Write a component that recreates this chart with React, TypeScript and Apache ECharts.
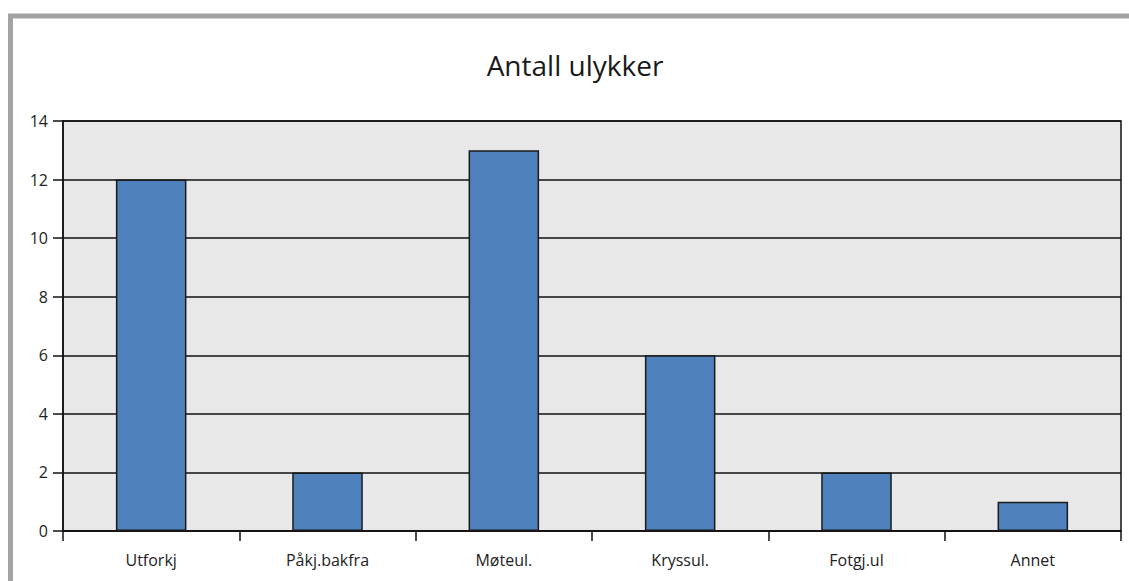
import React, { useEffect, useRef } from "react";
import * as echarts from "echarts";

const categories = ["Utforkj", "Påkj.bakfra", "Møteul.", "Kryssul.", "Fotgj.ul", "Annet"];
const values = [12, 2, 13, 6, 2, 1];
const titleText = "Antall ulykker";

export default function App() {
  const ref = useRef<HTMLDivElement>(null);
  useEffect(() => {
    const chart = echarts.init(ref.current!, null, { renderer: "svg" });
    const font = "'Open Sans', 'Noto Sans', sans-serif";
    chart.setOption({
      animation: false,
      backgroundColor: "#ffffff",
      textStyle: { fontFamily: font },
      title: {
        text: titleText,
        left: 570,
        top: 46,
        textAlign: "center",
        textStyle: { fontFamily: font, fontSize: 28, fontWeight: "normal", color: "#1a1a1a" },
      },
      graphic: [
        {
          type: "rect",
          z: -10,
          shape: { x: 10.5, y: 16, width: 1140, height: 620 },
          style: { fill: "#ffffff", stroke: "#a3a3a3", lineWidth: 5 },
          silent: true,
        },
      ],
      grid: {
        left: 63,
        right: 8,
        top: 121,
        bottom: 50,
        show: true,
        backgroundColor: "#e8e8e8",
        borderColor: "#111",
        borderWidth: 1.5,
      },
      xAxis: {
        type: "category",
        data: categories,
        axisLine: { lineStyle: { color: "#111", width: 1.5 } },
        axisTick: { show: true, length: 10, inside: false, lineStyle: { color: "#111", width: 1.5 }, alignWithLabel: false },
        axisLabel: { margin: 21, fontSize: 16, color: "#222", fontFamily: font, interval: 0 },
      },
      yAxis: {
        type: "value",
        min: 0,
        max: 14,
        interval: 2,
        axisLine: { show: true, lineStyle: { color: "#111", width: 1.5 } },
        axisTick: { show: true, length: 10, lineStyle: { color: "#111", width: 1.5 } },
        axisLabel: { margin: 15, fontSize: 16, color: "#222", fontFamily: font },
        splitLine: { show: true, lineStyle: { color: "#111", width: 1.5 } },
      },
      series: [
        {
          type: "bar",
          data: values,
          barWidth: "40%",
          itemStyle: { color: "#4f81bd", borderColor: "#1a1a1a", borderWidth: 1.5 },
        },
      ],
    });
    return () => chart.dispose();
  }, []);
  return (
    <div
      ref={ref}
      style={{ position: "fixed", left: 0, top: 0, width: 1129, height: 581 }}
    />
  );
}
